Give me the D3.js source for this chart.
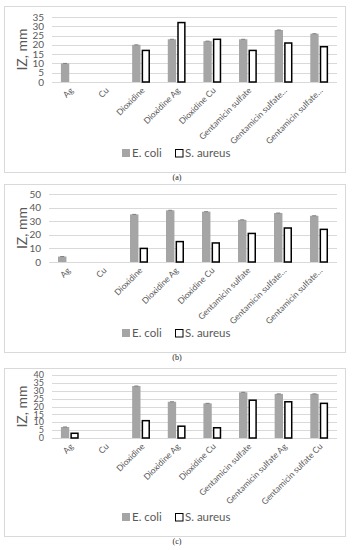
<!doctype html>
<html>
<head>
<script src="https://d3js.org/d3.v7.min.js"></script>
<style>
  body { margin: 0; background: #fff; }
</style>
</head>
<body>
<svg width="354" height="550"></svg>
<script>
// categories
var catsShort = ["Ag", "Cu", "Dioxidine", "Dioxidine Ag", "Dioxidine Cu",
                 "Gentamicin sulfate", "Gentamicin sulfate\u2026", "Gentamicin sulfate\u2026"];
var catsFull = ["Ag", "Cu", "Dioxidine", "Dioxidine Ag", "Dioxidine Cu",
                "Gentamicin sulfate", "Gentamicin sulfate Ag", "Gentamicin sulfate Cu"];
var series = ["E. coli", "S. aureus"];

// panel (a)
var ecoliA  = [10, 0, 20, 23, 22, 23, 28, 26];
var aureusA = [0, 0, 17, 32, 23, 17, 21, 19];
var ticksA  = [0, 5, 10, 15, 20, 25, 30, 35];
// panel (b)
var ecoliB  = [4, 0, 35, 38, 37, 31, 36, 34];
var aureusB = [0, 0, 10, 15, 14, 21, 25, 24];
var ticksB  = [0, 10, 20, 30, 40, 50];
// panel (c)
var ecoliC  = [7, 0, 33, 23, 22, 29, 28, 28];
var aureusC = [3, 0, 11, 7.5, 6.5, 24, 23, 22];
var ticksC  = [0, 5, 10, 15, 20, 25, 30, 35, 40];

var svg = d3.select("svg");
var font = "Lato, 'Open Sans', sans-serif";
var txt = "#595959";

function panel(top, bottom, yTop, yZero, left, labels, ecoli, aureus, ticks, tickSize, caption) {
  var g = svg.append("g");

  // frame
  g.append("rect")
    .attr("x", 4.5).attr("y", top + 0.5)
    .attr("width", 341).attr("height", bottom - top)
    .attr("fill", "#fff").attr("stroke", "#d9d9d9");

  var y = d3.scaleLinear().domain([0, d3.max(ticks)]).range([yZero, yTop]);
  var x = d3.scaleBand().domain(d3.range(labels.length)).range([left, 337])
    .paddingInner(0.5).paddingOuter(0.25);
  var x1 = d3.scaleBand().domain(series).range([0, x.bandwidth()]).paddingInner(0.12);

  // grid
  g.selectAll(".grid").data(ticks).enter().append("line")
    .attr("x1", left).attr("x2", 337)
    .attr("y1", function(d) { return Math.round(y(d)) + 0.5; })
    .attr("y2", function(d) { return Math.round(y(d)) + 0.5; })
    .attr("stroke", "#d9d9d9").attr("stroke-width", 1);

  // y tick labels
  g.selectAll(".yl").data(ticks).enter().append("text")
    .attr("x", left - 8)
    .attr("y", function(d) { return y(d) + tickSize * 0.35; })
    .attr("text-anchor", "end")
    .style("font-family", font).style("font-size", tickSize + "px").attr("fill", txt)
    .text(function(d) { return d; });

  // y title
  g.append("text")
    .attr("transform", "translate(27," + (yTop + yZero) / 2 + ")rotate(-90)")
    .attr("text-anchor", "middle")
    .style("font-family", font).style("font-size", "14px").attr("fill", txt)
    .text("IZ, mm");

  // E. coli bars
  var bw = x1.bandwidth();
  var ec = ecoli.map(function(v, i) { return {i: i, v: v}; }).filter(function(d) { return d.v > 0; });
  g.selectAll(".ec").data(ec).enter().append("rect")
    .attr("x", function(d) { return x(d.i) + x1(series[0]); })
    .attr("y", function(d) { return y(d.v); })
    .attr("width", bw)
    .attr("height", function(d) { return yZero - y(d.v); })
    .attr("fill", "#a5a5a5");
  g.selectAll(".ecap").data(ec).enter().append("line")
    .attr("x1", function(d) { return x(d.i) + x1(series[0]) + bw / 2 - 2; })
    .attr("x2", function(d) { return x(d.i) + x1(series[0]) + bw / 2 + 2; })
    .attr("y1", function(d) { return y(d.v); })
    .attr("y2", function(d) { return y(d.v); })
    .attr("stroke", "#7f7f7f").attr("stroke-width", 1);

  // S. aureus bars
  var sa = aureus.map(function(v, i) { return {i: i, v: v}; }).filter(function(d) { return d.v > 0; });
  g.selectAll(".sa").data(sa).enter().append("rect")
    .attr("x", function(d) { return x(d.i) + x1(series[1]) + 0.75; })
    .attr("y", function(d) { return y(d.v); })
    .attr("width", bw - 1.5)
    .attr("height", function(d) { return yZero - y(d.v); })
    .attr("fill", "#fff").attr("stroke", "#000").attr("stroke-width", 1.5);

  // x labels
  g.selectAll(".xl").data(labels).enter().append("text")
    .attr("transform", function(d, i) {
      return "translate(" + (x(i) + x.bandwidth() / 2 + 4) + "," + (yZero + 9) + ")rotate(-45)";
    })
    .attr("text-anchor", "end")
    .style("font-family", font).style("font-size", "8.5px").attr("fill", txt)
    .text(function(d) { return d; });

  // legend
  var ly = bottom - 15;
  var leg = g.append("g");
  leg.append("rect").attr("x", 122).attr("y", ly - 8).attr("width", 8).attr("height", 8).attr("fill", "#a5a5a5");
  leg.append("text").attr("x", 132).attr("y", ly)
    .style("font-family", font).style("font-size", "11.5px").attr("fill", txt).text(series[0]);
  leg.append("rect").attr("x", 175.5).attr("y", ly - 7.5).attr("width", 7.5).attr("height", 7.5)
    .attr("fill", "#fff").attr("stroke", "#000").attr("stroke-width", 1);
  leg.append("text").attr("x", 185).attr("y", ly)
    .style("font-family", font).style("font-size", "11.5px").attr("fill", txt).text(series[1]);

  // caption
  g.append("text").attr("x", 177).attr("y", bottom + 8)
    .attr("text-anchor", "middle")
    .style("font-family", "'Liberation Serif', serif").style("font-size", "8px").attr("fill", "#222")
    .text(caption);
}

panel(6, 172, 17, 82, 52, catsShort, ecoliA, aureusA, ticksA, 10, "(a)");
panel(184, 352, 194, 262, 49, catsShort, ecoliB, aureusB, ticksB, 10, "(b)");
panel(368, 536, 375, 438, 52, catsFull, ecoliC, aureusC, ticksC, 9, "(c)");
</script>
</body>
</html>
